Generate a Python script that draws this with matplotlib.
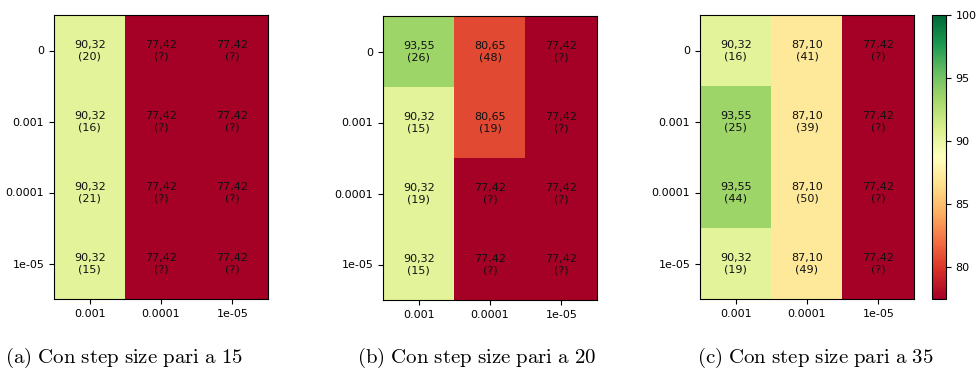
import matplotlib
matplotlib.use("Agg")
import matplotlib.pyplot as plt
import numpy as np

plt.rcParams["mathtext.fontset"] = "cm"

row_labels = ["0", "0.001", "0.0001", "1e-05"]
col_labels = ["0.001", "0.0001", "1e-05"]

acc_a = [[90.32, 77.42, 77.42],
         [90.32, 77.42, 77.42],
         [90.32, 77.42, 77.42],
         [90.32, 77.42, 77.42]]
ep_a = [["20", "?", "?"], ["16", "?", "?"], ["21", "?", "?"], ["15", "?", "?"]]

acc_b = [[93.55, 80.65, 77.42],
         [90.32, 80.65, 77.42],
         [90.32, 77.42, 77.42],
         [90.32, 77.42, 77.42]]
ep_b = [["26", "48", "?"], ["15", "19", "?"], ["19", "?", "?"], ["15", "?", "?"]]

acc_c = [[90.32, 87.10, 77.42],
         [93.55, 87.10, 77.42],
         [93.55, 87.10, 77.42],
         [90.32, 87.10, 77.42]]
ep_c = [["16", "41", "?"], ["25", "39", "?"], ["44", "50", "?"], ["19", "49", "?"]]

captions = ["(a) Con step size pari a 15",
            "(b) Con step size pari a 20",
            "(c) Con step size pari a 35"]

W, H = 976, 376
fig = plt.figure(figsize=(W / 100, H / 100), dpi=100)

def ax_rect(x0, y0, x1, y1):
    return [x0 / W, 1 - y1 / H, (x1 - x0) / W, (y1 - y0) / H]

rects = [ax_rect(54, 15, 268, 299), ax_rect(383, 16, 597, 300), ax_rect(700, 15, 914, 299)]
cap_x = [124, 477, 815]
vmin, vmax = 77.42, 100
cmap = plt.get_cmap("RdYlGn")

im = None
for rect, acc, ep, cap, cx in zip(rects, [acc_a, acc_b, acc_c], [ep_a, ep_b, ep_c], captions, cap_x):
    ax = fig.add_axes(rect)
    data = np.array(acc)
    im = ax.imshow(data, cmap=cmap, vmin=vmin, vmax=vmax, aspect="auto")
    ax.set_xticks(range(len(col_labels)))
    ax.set_xticklabels(col_labels, fontsize=8)
    ax.set_yticks(range(len(row_labels)))
    ax.set_yticklabels(row_labels, fontsize=8)
    for i in range(data.shape[0]):
        for j in range(data.shape[1]):
            txt = f"{data[i, j]:.2f}".replace(".", ",") + f"\n({ep[i][j]})"
            ax.text(j, i, txt, ha="center", va="center", fontsize=8, color="#111111",
                    linespacing=1.15)
    math_cap = r"$\mathrm{" + cap.replace(" ", r"\ ") + "}$"
    fig.text(cx / W, 1 - 358 / H, math_cap, ha="center", va="center", fontsize=15)

cax = fig.add_axes(ax_rect(932, 15, 946, 299))
cb = fig.colorbar(im, cax=cax)
cb.set_ticks([80, 85, 90, 95, 100])
cb.ax.tick_params(labelsize=8)

fig.savefig("out.png", dpi=100)
